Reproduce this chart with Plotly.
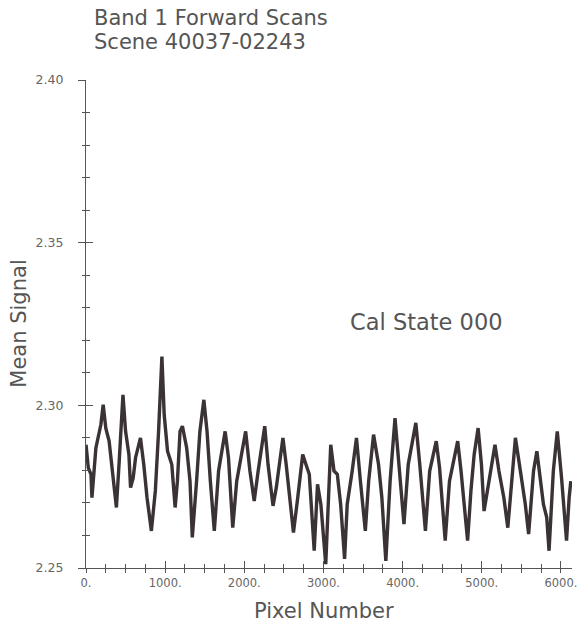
import plotly.graph_objects as go

# Band 1 forward-scan mean signal vs. pixel number
pixel_number = [
    0, 29, 63, 75, 125, 188, 217, 250, 292, 354, 384, 417, 467, 500, 542, 563,
    596, 626, 688, 730, 771, 826, 876, 917, 959, 988, 1030, 1084, 1126, 1155,
    1188, 1218, 1272, 1314, 1343, 1397, 1439, 1489,
    1529, 1571, 1621, 1675, 1717, 1758, 1800, 1854, 1904, 1967, 2017, 2071,
    2125, 2175, 2258, 2300, 2363, 2404, 2488, 2529, 2579, 2621, 2675, 2738,
    2779, 2821, 2883, 2925, 2967, 2996, 3029, 3092,
    3133, 3175, 3217, 3267, 3300, 3363, 3417, 3467, 3529, 3571, 3633, 3696,
    3738, 3788, 3842, 3904, 3946, 4017, 4071, 4167, 4217, 4288, 4342, 4425,
    4467, 4538, 4592,
    4654, 4696, 4738, 4779, 4821, 4863, 4904, 4954, 4996, 5029, 5071, 5167,
    5217, 5279, 5329, 5383, 5425, 5488, 5550, 5592, 5654, 5696, 5738, 5779,
    5821, 5850, 5904, 5954, 6008, 6050, 6071, 6104, 6125,
]
mean_signal = [
    2.2879, 2.2808, 2.2788, 2.2716, 2.2869, 2.2941, 2.3002, 2.2930, 2.2890,
    2.2757, 2.2686, 2.2818, 2.3032, 2.2920, 2.2849, 2.2747, 2.2777, 2.2839,
    2.2900, 2.2818, 2.2716, 2.2614, 2.2737, 2.2920, 2.3150, 2.2971, 2.2859,
    2.2818, 2.2686, 2.2767, 2.2920, 2.2936, 2.2869, 2.2767, 2.2594, 2.2767,
    2.2920, 2.3017,
    2.2920, 2.2767, 2.2614, 2.2798, 2.2869, 2.2920, 2.2839, 2.2624, 2.2767,
    2.2849, 2.2920, 2.2798, 2.2706, 2.2798, 2.2936, 2.2818, 2.2691, 2.2747,
    2.2900, 2.2818, 2.2696, 2.2609, 2.2716, 2.2849, 2.2818, 2.2788, 2.2553,
    2.2757, 2.2696, 2.2614, 2.2512, 2.2879,
    2.2798, 2.2788, 2.2696, 2.2528, 2.2696, 2.2798, 2.2900, 2.2767, 2.2614,
    2.2767, 2.2910, 2.2818, 2.2716, 2.2522, 2.2767, 2.2961, 2.2839, 2.2635,
    2.2818, 2.2946, 2.2818, 2.2614, 2.2798, 2.2890, 2.2808, 2.2584, 2.2767,
    2.2839, 2.2890, 2.2798, 2.2696, 2.2584, 2.2737, 2.2849, 2.2930, 2.2818,
    2.2675, 2.2737, 2.2879, 2.2798, 2.2716, 2.2624, 2.2798, 2.2900, 2.2798,
    2.2696, 2.2604, 2.2798, 2.2859, 2.2777, 2.2696, 2.2655, 2.2553, 2.2798,
    2.2920, 2.2777, 2.2655, 2.2584, 2.2716, 2.2767,
]

x_tick_vals = [0, 1000, 2000, 3000, 4000, 5000, 6000]
x_tick_text = ["0.", "1000.", "2000.", "3000.", "4000.", "5000.", "6000."]
y_tick_vals = [2.25, 2.30, 2.35, 2.40]
y_tick_text = ["2.25", "2.30", "2.35", "2.40"]

title_lines = ["Band 1 Forward Scans", "Scene 40037-02243"]
x_title = "Pixel Number"
y_title = "Mean Signal"
state_label = "Cal State 000"

X_RANGE = [0, 6140]
Y_RANGE = [2.25, 2.40]

INK = "#555555"
TRACE = "#3a3236"
FONT = "DejaVu Sans"

fig = go.Figure()
fig.add_trace(go.Scatter(
    x=pixel_number, y=mean_signal, mode="lines",
    line=dict(color=TRACE, width=3.4), hoverinfo="skip", showlegend=False,
))
# transparent copy on the overlay axes so their inward ticks get drawn
fig.add_trace(go.Scatter(
    x=pixel_number, y=mean_signal, mode="lines", xaxis="x2", yaxis="y2",
    line=dict(color="rgba(0,0,0,0)", width=0), hoverinfo="skip", showlegend=False,
))

fig.update_layout(
    width=579, height=623,
    margin=dict(l=86, r=2, t=80, b=55),
    paper_bgcolor="white", plot_bgcolor="white",
    font=dict(family=FONT, color=INK),
    xaxis=dict(
        range=X_RANGE, showgrid=False, zeroline=False,
        showline=True, linecolor=INK, linewidth=1.2,
        tickmode="array", tickvals=x_tick_vals, ticktext=x_tick_text,
        ticks="outside", ticklen=4, tickwidth=1.2, tickcolor=INK,
        minor=dict(dtick=250, ticks="outside", ticklen=4, tickwidth=1.2, tickcolor=INK),
        tickfont=dict(size=11.5, color="#666666"),
        ticklabeloverflow="allow",
    ),
    yaxis=dict(
        range=Y_RANGE, showgrid=False, zeroline=False,
        showline=True, linecolor=INK, linewidth=1.2,
        tickmode="array", tickvals=y_tick_vals, ticktext=y_tick_text,
        ticks="outside", ticklen=7, tickwidth=1.2, tickcolor=INK,
        minor=dict(dtick=0.01, ticks="outside", ticklen=3, tickwidth=1.2, tickcolor=INK),
        tickfont=dict(size=12.5, color="#666666"),
        ticklabelstandoff=12,
    ),
    # overlay axes supply the inward half of the crossing tick marks
    xaxis2=dict(
        range=X_RANGE, overlaying="x", anchor="y2", side="bottom",
        showgrid=False, zeroline=False, showline=False, showticklabels=False,
        tickmode="array", tickvals=x_tick_vals,
        ticks="inside", ticklen=7, tickwidth=1.2, tickcolor=INK,
        minor=dict(dtick=250, ticks="inside", ticklen=4, tickwidth=1.2, tickcolor=INK),
    ),
    yaxis2=dict(
        range=Y_RANGE, overlaying="y", anchor="x2", side="left",
        showgrid=False, zeroline=False, showline=False, showticklabels=False,
        tickmode="array", tickvals=y_tick_vals,
        ticks="inside", ticklen=7, tickwidth=1.2, tickcolor=INK,
        minor=dict(dtick=0.01, ticks="inside", ticklen=4, tickwidth=1.2, tickcolor=INK),
    ),
    annotations=[
        dict(text=title_lines[0], xref="paper", yref="paper", x=0.012, y=1.128,
             xanchor="left", yanchor="middle", showarrow=False,
             font=dict(size=21, color=INK, family=FONT)),
        dict(text=title_lines[1], xref="paper", yref="paper", x=0.012, y=1.077,
             xanchor="left", yanchor="middle", showarrow=False,
             font=dict(size=21, color=INK, family=FONT)),
        dict(text=x_title, xref="paper", yref="paper", x=0.489, y=-0.088,
             xanchor="center", yanchor="middle", showarrow=False,
             font=dict(size=21, color=INK, family=FONT)),
        dict(text=y_title, xref="paper", yref="paper", x=-0.1385, y=0.5,
             xanchor="center", yanchor="middle", showarrow=False, textangle=-90,
             font=dict(size=21, color=INK, family=FONT)),
        dict(text=state_label, xref="paper", yref="paper", x=0.70, y=0.504,
             xanchor="center", yanchor="middle", showarrow=False,
             font=dict(size=22.5, color=INK, family=FONT)),
    ],
)

fig.write_html("out.html")
